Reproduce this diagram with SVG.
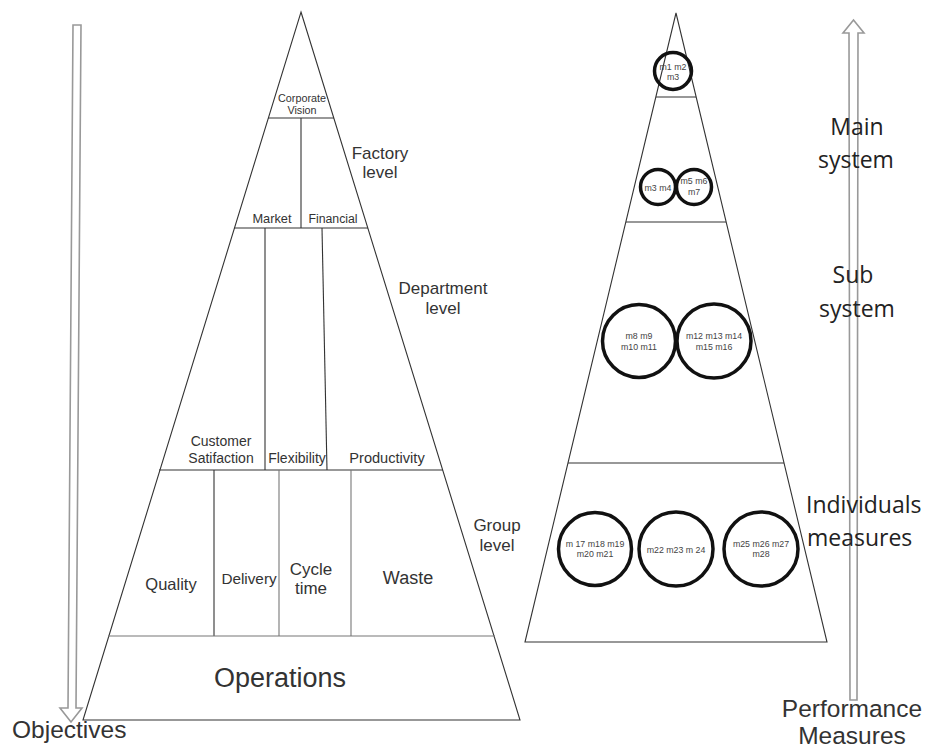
<svg xmlns="http://www.w3.org/2000/svg" width="928" height="748" viewBox="0 0 928 748">
<style>
.ln{stroke:#333;stroke-width:1.1;fill:none}
.lg{stroke:#777;stroke-width:1.1;fill:none}
.arr{stroke:#999;stroke-width:1.6;fill:none;stroke-linejoin:miter}
.cir{stroke:#111;stroke-width:3.5;fill:none}
.t{font-family:"Liberation Sans",Arial,sans-serif;fill:#333;text-anchor:middle}
.ct{font-family:"Liberation Sans",Arial,sans-serif;fill:#444;text-anchor:middle;font-size:8.8px}
.o{font-family:"Open Sans","Noto Sans",sans-serif;fill:#222;font-size:23px}
</style>
<rect width="928" height="748" fill="#fff"/>

<g id="left-pyramid">
  <polygon class="ln" points="301,12 520,720 83,720"/>
  <line class="ln" x1="268" y1="118" x2="334" y2="118"/>
  <line class="ln" x1="301" y1="118" x2="301" y2="228"/>
  <line class="ln" x1="234" y1="228" x2="368" y2="228"/>
  <line class="ln" x1="265" y1="228" x2="265" y2="470"/>
  <line class="ln" x1="322" y1="228" x2="327" y2="470"/>
  <line class="ln" x1="159" y1="470" x2="443" y2="470"/>
  <line class="ln" x1="214" y1="470" x2="214" y2="636"/>
  <line class="lg" x1="279" y1="470" x2="279" y2="636"/>
  <line class="lg" x1="351" y1="470" x2="351" y2="636"/>
  <line class="lg" x1="108" y1="636" x2="495" y2="636"/>
</g>

<g id="left-labels">
  <g id="corporate-vision"><text class="t" x="302" y="102" font-size="10.8">Corporate</text><text class="t" x="302" y="114" font-size="10.8">Vision</text></g>
  <g id="factory-level"><text class="t" x="380" y="159" font-size="17">Factory</text><text class="t" x="380" y="178" font-size="17">level</text></g>
  <g id="market"><text class="t" x="272" y="223" font-size="12.8">Market</text></g>
  <g id="financial"><text class="t" x="333" y="223" font-size="12.3">Financial</text></g>
  <g id="department-level"><text class="t" x="443" y="294" font-size="17">Department</text><text class="t" x="443" y="314" font-size="17">level</text></g>
  <g id="customer-satifaction"><text class="t" x="221" y="446" font-size="14">Customer</text><text class="t" x="221" y="463" font-size="14">Satifaction</text></g>
  <g id="flexibility"><text class="t" x="297" y="463" font-size="14">Flexibility</text></g>
  <g id="productivity"><text class="t" x="387" y="463" font-size="14.6">Productivity</text></g>
  <g id="group-level"><text class="t" x="497" y="531" font-size="17">Group</text><text class="t" x="497" y="551" font-size="17">level</text></g>
  <g id="quality"><text class="t" x="171" y="590" font-size="16.5">Quality</text></g>
  <g id="delivery"><text class="t" x="249" y="584" font-size="15.3">Delivery</text></g>
  <g id="cycle-time"><text class="t" x="311" y="575" font-size="17">Cycle</text><text class="t" x="311" y="594" font-size="17">time</text></g>
  <g id="waste"><text class="t" x="408" y="584" font-size="18">Waste</text></g>
  <g id="operations"><text class="t" x="280" y="687" font-size="27">Operations</text></g>
  <g id="objectives"><text class="t" x="12" y="738" font-size="24.5" style="text-anchor:start">Objectives</text></g>
</g>

<g id="right-pyramid">
  <polygon class="ln" points="676,13 827,642 525,642"/>
  <line class="ln" x1="656" y1="97" x2="696" y2="97"/>
  <line class="ln" x1="626" y1="222" x2="726" y2="222"/>
  <line class="ln" x1="568" y1="463" x2="784" y2="463"/>
</g>

<g id="measures">
  <g id="c1"><circle class="cir" cx="673" cy="71" r="18.5"/><text class="ct" x="673" y="70">m1 m2</text><text class="ct" x="673" y="80">m3</text></g>
  <g id="c2"><circle class="cir" cx="658" cy="187" r="17.5"/><text class="ct" x="658" y="190.5">m3 m4</text></g>
  <g id="c3"><circle class="cir" cx="694" cy="187" r="17.5"/><text class="ct" x="694" y="184">m5 m6</text><text class="ct" x="694" y="195">m7</text></g>
  <g id="c4"><circle class="cir" cx="639" cy="341" r="36.5"/><text class="ct" x="639" y="339">m8 m9</text><text class="ct" x="639" y="350">m10 m11</text></g>
  <g id="c5"><circle class="cir" cx="714" cy="341" r="37"/><text class="ct" x="714" y="339">m12 m13 m14</text><text class="ct" x="714" y="350">m15 m16</text></g>
  <g id="c6"><circle class="cir" cx="595" cy="549" r="36.5"/><text class="ct" x="595" y="547">m 17 m18 m19</text><text class="ct" x="595" y="557">m20 m21</text></g>
  <g id="c7"><circle class="cir" cx="676" cy="549" r="37"/><text class="ct" x="676" y="553">m22 m23 m 24</text></g>
  <g id="c8"><circle class="cir" cx="761" cy="549" r="37"/><text class="ct" x="761" y="547">m25 m26 m27</text><text class="ct" x="761" y="557">m28</text></g>
</g>

<g id="connectors">
  <polygon class="arr" points="73,25 81,25 76,708 82,708 71,722 60,708 68,708"/>
  <polygon class="arr" points="853.5,20 864,33 858,33 857,700 850,700 849,33 843,33"/>
</g>

<g id="right-labels">
  <g id="main-system"><text class="o" x="857" y="135" text-anchor="middle">Main</text><text class="o" x="856" y="168" text-anchor="middle">system</text></g>
  <g id="sub-system"><text class="o" x="853" y="283" text-anchor="middle">Sub</text><text class="o" x="857" y="317" text-anchor="middle">system</text></g>
  <g id="individuals-measures"><text class="o" x="806" y="513">Individuals</text><text class="o" x="807" y="546">measures</text></g>
  <g id="performance-measures"><text class="t" x="852" y="717" font-size="24.5">Performance</text><text class="t" x="852" y="744" font-size="24.5">Measures</text></g>
</g>
</svg>
